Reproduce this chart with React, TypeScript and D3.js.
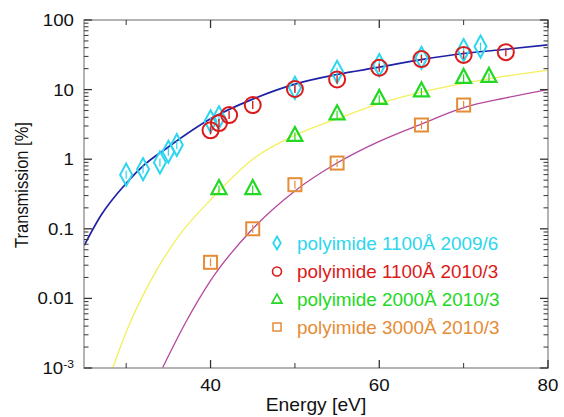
import React from 'react';
import * as d3 from 'd3';

// ---- data ----
const xMajorTicks = [40, 60, 80];
const xMinorTicks = [30, 50, 70];
const yDecades = [0.001, 0.01, 0.1, 1, 10, 100];
const yTickLabels = ['10^-3', '0.01', '0.1', '1', '10', '100'];

// polyimide 1100Å 2009/6 (cyan diamonds)
const diamondE = [30, 32, 34, 35, 36, 40, 41, 50, 55, 60, 65, 70, 72];
const diamondT = [0.6, 0.72, 0.9, 1.28, 1.6, 3.5, 4.0, 10.6, 18, 22.5, 28.7, 37, 41.5];

// polyimide 1100Å 2010/3 (red circles)
const circleE = [40, 41, 42.2, 45, 50, 55, 60, 65, 70, 75];
const circleT = [2.6, 3.3, 4.3, 6.0, 10.2, 14, 20.6, 27.5, 31.5, 34.5];

// polyimide 2000Å 2010/3 (green triangles)
const triangleE = [41, 45, 50, 55, 60, 65, 70, 73];
const triangleT = [0.38, 0.38, 2.2, 4.5, 7.5, 9.6, 15, 15.5];

// polyimide 3000Å 2010/3 (orange squares)
const squareE = [40, 45, 50, 55, 65, 70];
const squareT = [0.033, 0.1, 0.43, 0.88, 3.1, 6.0];

// model curves
const blueE = [25, 27, 30, 32, 35, 40, 45, 50, 55, 60, 65, 70, 75, 80];
const blueT = [0.057, 0.155, 0.45, 0.8, 1.5, 3.8, 7.3, 12, 16.5, 21, 27, 33, 38, 44];
const yellowE = [28.4, 30, 32.75, 36.3, 40, 45, 50, 55, 60, 65, 70, 75, 80];
const yellowT = [0.001, 0.0033, 0.0166, 0.081, 0.26, 1.0, 2.2, 3.8, 6.3, 9.2, 12.3, 15.6, 19];
const magentaE = [34.3, 37, 40, 45, 50, 55, 60, 65, 70, 75, 80];
const magentaT = [0.001, 0.0044, 0.018, 0.1, 0.35, 0.88, 1.8, 3.2, 5.5, 7.6, 10];

const legendLabels = [
  'polyimide 1100Å 2009/6',
  'polyimide 1100Å 2010/3',
  'polyimide 2000Å 2010/3',
  'polyimide 3000Å 2010/3',
];

const CYAN = '#2cd6ee';
const RED = '#dc1a1a';
const GREEN = '#22d822';
const ORANGE = '#e58c36';
const FONT = '"Liberation Sans", Arial, Helvetica, sans-serif';

export default function App() {
  const L = 84, R = 548, T = 20, B = 368;
  const x = d3.scaleLinear().domain([25, 80]).range([L, R]);
  const y = d3.scaleLog().domain([0.001, 100]).range([B, T]);

  const line = d3
    .line<[number, number]>()
    .x((d) => x(d[0]))
    .y((d) => y(d[1]))
    .curve(d3.curveMonotoneX);

  const zip = (a: number[], b: number[]) => a.map((v, i) => [v, b[i]] as [number, number]);

  const minorY: number[] = [];
  for (let i = 0; i < yDecades.length - 1; i++) {
    for (let k = 2; k <= 9; k++) minorY.push(yDecades[i] * k);
  }

  const diamond = (s: number, h: number) => `M0,${-h}L${s},0L0,${h}L${-s},0Z`;
  const triangle = (w: number, h: number) => `M0,${-h * 0.6}L${w},${h * 0.4}L${-w},${h * 0.4}Z`;

  const sx = 1.1;

  const legendX = 277;
  const legendTextX = 297;
  const legendY = [243, 271.5, 299.5, 327];
  const legendColors = [CYAN, RED, GREEN, ORANGE];

  return (
    <svg
      width={564}
      height={417}
      viewBox="0 0 564 417"
      style={{ position: 'absolute', left: 0, top: 0, background: '#fff' }}
      fontFamily={FONT}
    >
      <rect x={0} y={0} width={564} height={417} fill="#fff" />
      <defs>
        <clipPath id="plot">
          <rect x={L} y={T} width={R - L} height={B - T} />
        </clipPath>
      </defs>

      {/* curves */}
      <g clipPath="url(#plot)" fill="none">
        <path d={line(zip(yellowE, yellowT)) || ''} stroke="#f3ef5c" strokeWidth={1.3} />
        <path d={line(zip(magentaE, magentaT)) || ''} stroke="#b4489c" strokeWidth={1.3} />
        <path d={line(zip(blueE, blueT)) || ''} stroke="#1f22a6" strokeWidth={1.7} />
      </g>

      {/* frame */}
      <rect x={L} y={T} width={R - L} height={B - T} fill="none" stroke="#9a9a9a" strokeWidth={1.5} />

      {/* ticks */}
      <g stroke="#333" strokeWidth={1.3}>
        {yDecades.map((v) => (
          <g key={'yd' + v}>
            <line x1={L} x2={L + 8} y1={y(v)} y2={y(v)} />
            <line x1={R} x2={R - 8} y1={y(v)} y2={y(v)} />
          </g>
        ))}
        {minorY.map((v, i) => (
          <g key={'ym' + i}>
            <line x1={L} x2={L + 4.5} y1={y(v)} y2={y(v)} strokeWidth={1} />
            <line x1={R} x2={R - 4.5} y1={y(v)} y2={y(v)} strokeWidth={1} />
          </g>
        ))}
        {xMajorTicks.map((v) => (
          <g key={'xM' + v}>
            <line x1={x(v)} x2={x(v)} y1={B} y2={B - 8} />
            <line x1={x(v)} x2={x(v)} y1={T} y2={T + 8} />
          </g>
        ))}
        {xMinorTicks.map((v) => (
          <g key={'xm' + v}>
            <line x1={x(v)} x2={x(v)} y1={B} y2={B - 5} strokeWidth={1} />
            <line x1={x(v)} x2={x(v)} y1={T} y2={T + 5} strokeWidth={1} />
          </g>
        ))}
      </g>

      {/* y tick labels */}
      {yDecades.map((v, i) => {
        const lab = yTickLabels[i];
        const ty = y(v) + 6;
        if (lab.includes('^')) {
          const [base, exp] = lab.split('^');
          return (
            <text key={'yl' + v} transform={`translate(74,${ty}) scale(${sx},1)`} textAnchor="end" fontSize={17} fill="#111">
              {base}
              <tspan fontSize={11} dy={-6}>{exp}</tspan>
            </text>
          );
        }
        return (
          <text key={'yl' + v} transform={`translate(74,${ty}) scale(${sx},1)`} textAnchor="end" fontSize={17} fill="#111">
            {lab}
          </text>
        );
      })}

      {/* x tick labels */}
      {xMajorTicks.map((v) => (
        <text key={'xl' + v} transform={`translate(${x(v)},391) scale(${sx},1)`} textAnchor="middle" fontSize={17} fill="#111">
          {v}
        </text>
      ))}

      {/* axis titles */}
      <text transform={`translate(${(L + R) / 2},411) scale(${sx},1)`} textAnchor="middle" fontSize={17.5} fill="#111">
        Energy [eV]
      </text>
      <text transform={`translate(28,185) scale(${sx},1) rotate(-90)`} textAnchor="middle" fontSize={16.5} fill="#111">
        Transmission [%]
      </text>

      {/* markers */}
      <g fill="none">
        {diamondE.map((e, i) => (
          <g key={'d' + i} transform={`translate(${x(e)},${y(diamondT[i])})`} stroke={CYAN}>
            <path d={diamond(6, 11)} strokeWidth={2} />
            <line x1={0} x2={0} y1={-4} y2={4} strokeWidth={1.2} />
          </g>
        ))}
        {circleE.map((e, i) => (
          <g key={'c' + i} transform={`translate(${x(e)},${y(circleT[i])})`} stroke={RED}>
            <circle r={8} strokeWidth={2} />
            <line x1={0} x2={0} y1={-4} y2={4} strokeWidth={1.4} />
          </g>
        ))}
        {triangleE.map((e, i) => (
          <g key={'t' + i} transform={`translate(${x(e)},${y(triangleT[i])})`} stroke={GREEN}>
            <path d={triangle(7.5, 14)} strokeWidth={2.2} />
            <line x1={0} x2={0} y1={-3} y2={5} strokeWidth={1.2} />
          </g>
        ))}
        {squareE.map((e, i) => (
          <g key={'s' + i} transform={`translate(${x(e)},${y(squareT[i])})`} stroke={ORANGE}>
            <rect x={-6.5} y={-6.5} width={13} height={13} strokeWidth={2} />
            <line x1={0} x2={0} y1={-4} y2={4} strokeWidth={1.2} />
          </g>
        ))}
      </g>

      {/* legend */}
      <g>
        {legendLabels.map((lab, i) => {
          const cy = legendY[i];
          const c = legendColors[i];
          let marker;
          if (i === 0) marker = <path d={diamond(3.8, 6.5)} stroke={c} strokeWidth={1.8} fill="none" />;
          else if (i === 1) marker = <circle r={4.5} stroke={c} strokeWidth={1.6} fill="none" />;
          else if (i === 2) marker = <path d={triangle(5, 9)} stroke={c} strokeWidth={1.6} fill="none" />;
          else marker = <rect x={-4} y={-4} width={8} height={8} stroke={c} strokeWidth={1.5} fill="none" />;
          return (
            <g key={'lg' + i}>
              <g transform={`translate(${legendX},${cy})`}>{marker}</g>
              <text transform={`translate(${legendTextX},${cy + 6.5}) scale(1.05,1)`} fontSize={18} fill={c}>
                <tspan>{lab}</tspan>
              </text>
            </g>
          );
        })}
      </g>
    </svg>
  );
}
